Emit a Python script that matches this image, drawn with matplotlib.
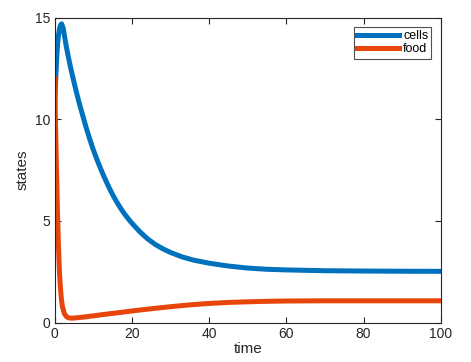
import matplotlib
matplotlib.use("Agg")
import matplotlib.pyplot as plt

plt.rcParams['font.family'] = ['Liberation Sans', 'DejaVu Sans']

t_cells = [0, 0.25, 0.5, 0.75, 1.0, 1.25, 1.5, 1.8, 2.2, 2.6, 3, 3.5, 4, 4.5, 5, 5.5, 6, 6.5,
           7, 8, 9, 10, 11, 12, 13, 14, 15, 16, 17, 18, 19, 20, 22, 24, 26, 28, 30, 33, 36,
           40, 45, 50, 55, 60, 70, 80, 90, 100]
cells = [10.6, 11.9, 12.9, 13.65, 14.15, 14.45, 14.63, 14.7, 14.5, 14.05, 13.6, 13.12, 12.66,
         12.24, 11.84, 11.45, 11.07, 10.71, 10.37, 9.70, 9.08, 8.51, 8.0, 7.53, 7.09, 6.68,
         6.3, 5.96, 5.65, 5.37, 5.12, 4.89, 4.48, 4.13, 3.85, 3.63, 3.45, 3.23, 3.07,
         2.92, 2.78, 2.68, 2.62, 2.59, 2.55, 2.535, 2.525, 2.52]

t_food = [0, 0.25, 0.5, 0.75, 1.0, 1.25, 1.5, 1.75, 2.0, 2.5, 3, 3.5, 4, 5, 6, 8, 10, 12, 15,
          18, 20, 25, 30, 35, 40, 45, 50, 55, 60, 70, 80, 100]
food = [12.0, 9.6, 7.3, 5.3, 3.7, 2.5, 1.7, 1.15, 0.8, 0.45, 0.3, 0.24, 0.22, 0.22, 0.24,
        0.28, 0.33, 0.38, 0.45, 0.52, 0.57, 0.68, 0.78, 0.87, 0.94, 0.99, 1.02, 1.045,
        1.06, 1.07, 1.07, 1.07]

fig = plt.figure(figsize=(4.71, 3.62), dpi=100)
ax = fig.add_axes([0.116, 0.109, 0.82, 0.842])

ax.plot(t_cells, cells, color='#0072BD', lw=3.6, label='cells')
ax.plot(t_food, food, color='#E8450A', lw=3.6, label='food')

ax.set_xlim(0, 100)
ax.set_ylim(0, 15)
ax.set_xticks([0, 20, 40, 60, 80, 100])
ax.set_yticks([0, 5, 10, 15])
ax.tick_params(direction='in', top=True, right=True, length=4, width=0.8,
               labelsize=10, colors='#262626', pad=3)
for s in ax.spines.values():
    s.set_linewidth(0.8)
    s.set_color('#262626')
ax.set_xlabel('time', fontsize=11, color='#262626', labelpad=1)
ax.set_ylabel('states', fontsize=11, color='#262626', labelpad=4)

leg = ax.legend(loc='upper right', fontsize=9, frameon=True, fancybox=False,
                edgecolor='#262626', handlelength=3.3, handletextpad=0.35,
                borderpad=0.25, labelspacing=0.1, borderaxespad=0.75)
leg.get_frame().set_linewidth(0.8)

fig.savefig('out.png', dpi=100)
